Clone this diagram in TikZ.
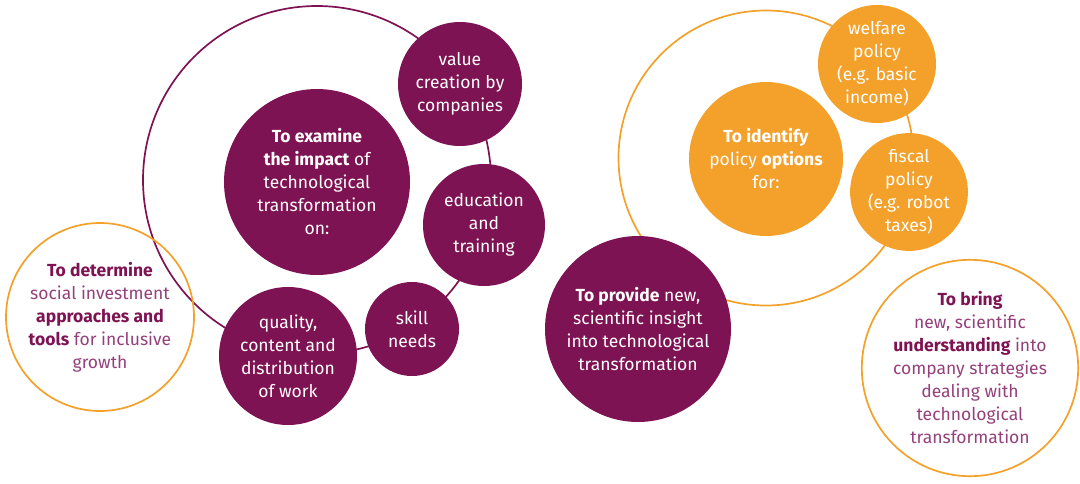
\documentclass[tikz,border=0pt]{standalone}
\usepackage{fontspec}
\setmainfont{Fira Sans}

\definecolor{plum}{HTML}{7E1353}
\definecolor{plumsoft}{HTML}{94407A}
\definecolor{amber}{HTML}{F4A12B}

\tikzset{
  bubble/.style={circle, inner sep=0pt, align=center, text=white,
    font=\fontsize{17.5}{23}\selectfont},
  plumdot/.style={bubble, fill=plum},
  amberdot/.style={bubble, fill=amber},
  ring/.style={circle, draw=#1, line width=1.7pt, inner sep=0pt},
  ringtext/.style={ring=amber, align=center, text=plumsoft,
    font=\fontsize{17.5}{23}\selectfont},
}
\newcommand{\hi}[1]{\textbf{\textcolor{plum}{#1}}}

\begin{document}
\begin{tikzpicture}[x=1pt, y=-1pt]
    \useasboundingbox (0,0) rectangle (1080,483);

    % outline rings behind everything
    \node[ring=plum, minimum size=348pt] (impactring) at (317,180) {};
    \node[ring=amber, minimum size=295pt] (policyring) at (766,158) {};

    % left hand goal
    \node[ringtext, minimum size=188pt] (determine) at (100,317)
        {\hi{To determine}\\social investment\\\hi{approaches and}\\\hi{tools} for inclusive\\growth};

    % impact cluster
    \node[plumdot, minimum size=186pt] (examine) at (317,182)
        {\textbf{To examine}\\\textbf{the impact} of\\technological\\transformation\\on:};
    \node[plumdot, minimum size=124pt] (valuecreation) at (460,84)
        {value\\creation by\\companies};
    \node[plumdot, minimum size=122pt] (education) at (484,225)
        {education\\and\\training};
    \node[plumdot, minimum size=94pt] (skills) at (412,329)
        {skill\\needs};
    \node[plumdot, minimum size=138pt] (work) at (288,356)
        {quality,\\content and\\distribution\\of work};

    % policy cluster
    \node[amberdot, minimum size=154pt] (identify) at (766,159)
        {\textbf{To identify}\\policy \textbf{options}\\for:};
    \node[amberdot, minimum size=118pt] (welfare) at (877,64)
        {welfare\\policy\\(e.g. basic\\income)};
    \node[amberdot, minimum size=116pt] (fiscal) at (909,192)
        {fiscal\\policy\\(e.g. robot\\taxes)};

    % insight and company goals
    \node[plumdot, minimum size=186pt] (insight) at (638,329)
        {\textbf{To provide} new,\\scientific insight\\into technological\\transformation};
    \node[ringtext, minimum size=214pt] (bring) at (970,368)
        {\hi{To bring}\\new, scientific\\\hi{understanding} into\\company strategies\\dealing with\\technological\\transformation};
\end{tikzpicture}
\end{document}
